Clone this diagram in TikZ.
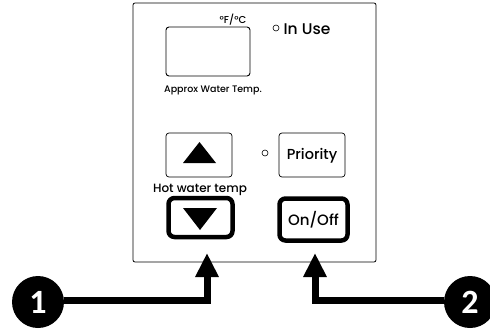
\documentclass[tikz,border=0pt]{standalone}
\usepackage{fontspec}
\setmainfont{Poppins}[BoldFont={* Medium}]
\newfontfamily\numfont{Carlito}
\usetikzlibrary{arrows.meta}
\begin{document}
\begin{tikzpicture}[x=1pt,y=-1pt,
  panel/.style={draw,line width=0.8pt,rounded corners=2pt},
  keybox/.style={draw,line width=0.7pt,rounded corners=3pt},
  thickkey/.style={draw,line width=4.5pt,rounded corners=6pt},
  lbl/.style={inner sep=0pt,font=\bfseries\fontsize{#1}{#1}\selectfont},
  led/.style={draw,circle,line width=0.6pt,minimum size=6pt,inner sep=0pt},
  badge/.style={circle,fill=black,minimum size=52pt,inner sep=0pt,text=white,font=\numfont\bfseries\fontsize{34}{34}\selectfont},
  callout/.style={line width=7pt,-{Triangle[length=24pt,width=22pt]}}
]
\useasboundingbox (0,0) rectangle (490,332);
% front panel
\draw[panel] (133,3) rectangle (376,262);
% temperature display
\draw[keybox,line width=0.9pt] (166,27) rectangle (250,76);
\node[lbl=10] (units) at (233,20) {°F/°C};
\node[lbl=9.5] (approx) at (213,90) {Approx Water Temp.};
\node[led] (inuseled) at (276,28) {};
\node[lbl=15.5] (inuse) at (307,29) {In Use};
% temperature up key
\node[keybox,minimum width=66pt,minimum height=44pt] (up) at (199,155) {};
\fill (183,163) -- (216,163) -- (199.5,142) -- cycle;
\node[lbl=12] (hwt) at (200,190) {Hot water temp};
% temperature down key
\node[thickkey,minimum width=64pt,minimum height=39pt] (down) at (200.5,217.5) {};
\fill (183,208) -- (217,208) -- (200,230) -- cycle;
% priority key
\node[keybox,minimum width=66pt,minimum height=44pt] (prio) at (312,155) {};
\node[lbl=14.5] (priotext) at (312,156) {Priority};
\node[led] (prioled) at (265,153) {};
% on/off key
\node[thickkey,minimum width=68pt,minimum height=42pt] (onoff) at (313.5,219.5) {};
\node[lbl=15] (onofftext) at (313.5,220) {On/Off};
% callouts
\node[badge] (b1) at (38,302) {1};
\node[badge] (b2) at (470,302) {2};
\coordinate (t1) at (207,253);
\coordinate (t2) at (315,253);
\draw[callout] (b1.east) ++(0,-2) -| (t1);
\draw[callout] (b2.west) ++(0,-2) -| (t2);
\end{tikzpicture}
\end{document}
